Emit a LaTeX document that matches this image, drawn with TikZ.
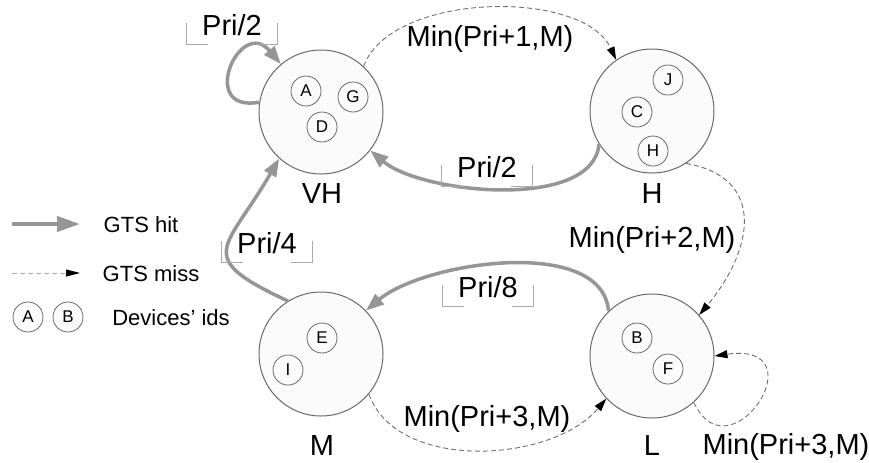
\documentclass[tikz,border=0pt]{standalone}
\usepackage{fontspec}
\setmainfont{Liberation Sans}
\usetikzlibrary{arrows.meta,calc}
\definecolor{hitgray}{RGB}{150,150,150}
\definecolor{missgray}{RGB}{110,110,110}
\definecolor{brkgray}{RGB}{170,170,170}
\definecolor{nodegray}{RGB}{105,105,105}
\definecolor{nodefill}{RGB}{251,251,251}

% floor-like corners under a label
\newcommand{\floorbox}[1]{%
  \draw[brkline] (#1.south west) ++(0,21) -- (#1.south west) -- ++(21,0);
  \draw[brkline] (#1.south east) ++(0,21) -- (#1.south east) -- ++(-21,0);}

\begin{document}
\begin{tikzpicture}[x=0.5pt,y=0.5pt,
        every node/.style={inner sep=0pt},
        state/.style={draw=nodegray,circle,fill=nodefill,line width=0.5pt,minimum size=62pt},
        dev/.style={draw=nodegray,circle,fill=nodefill,line width=0.4pt,minimum size=15pt,font=\fontsize{8.5}{10}\selectfont},
        sname/.style={anchor=base,font=\fontsize{14.5}{16}\selectfont},
        lbl/.style={anchor=base,font=\fontsize{14.5}{16}\selectfont},
        brk/.style={lbl,text depth=0pt,inner ysep=4.5pt,inner xsep=7.5pt},
        brkline/.style={brkgray,line width=0.5pt},
        legtext/.style={anchor=base,font=\fontsize{11}{13}\selectfont},
        hit/.style={hitgray,line width=1.75pt,-{Triangle[length=9pt,width=6.5pt]}},
        miss/.style={missgray,line width=0.45pt,dash pattern=on 2.5pt off 1.5pt,-{Triangle[length=6.5pt,width=4pt,color=black]}}
        ]
        \useasboundingbox (0,0) rectangle (869,-462);

        % the states
        \node[state] (VH) at (321,-112) {};
        \node[state] (H) at (652,-111) {};
        \node[state] (M) at (321,-354) {};
        \node[state] (L) at (652,-356) {};

        % the devices
        \node[dev] (dA) at (306,-91) {A};
        \node[dev] (dG) at (353,-97) {G};
        \node[dev] (dD) at (322,-127) {D};
        \node[dev] (dJ) at (668,-80) {J};
        \node[dev] (dC) at (637,-112) {C};
        \node[dev] (dH) at (653,-151) {H};
        \node[dev] (dE) at (322,-338) {E};
        \node[dev] (dI) at (288,-370) {I};
        \node[dev] (dB) at (637,-338) {B};
        \node[dev] (dF) at (668,-369) {F};

        % the state names
        \node[sname] (nVH) at (322,-203) {VH};
        \node[sname] (nH) at (652,-203) {H};
        \node[sname] (nM) at (322,-455) {M};
        \node[sname] (nL) at (652,-455) {L};

        % the hits
        \draw[hit] (VH.171) to[out=190,in=130,looseness=3.7] (VH.130);
        \draw[hit] (H.212) to[out=-95,in=-40,looseness=0.75] (VH.-38);
        \draw[hit] (L.134) to[out=95,in=40,looseness=0.8] (M.44);
        \draw[hit] (M.122) to[out=155,in=240,looseness=1.9] (VH.228);

        % the misses
        \draw[miss] (VH.47) to[out=70,in=115,looseness=0.8] (H.125);
        \draw[miss] (H.-57) to[out=-10,in=50,looseness=1.4] (L.41);
        \draw[miss] (M.-40) to[out=-70,in=-130,looseness=0.9] (L.223);
        \draw[miss] (L.-48) .. controls +(-65:85) and +(8:107) .. (L.0);

        % the labels
        \node[brk] (p1) at (232,-35) {Pri/2};
        \node[brk] (p2) at (487,-177) {Pri/2};
        \node[brk] (p3) at (488,-297) {Pri/8};
        \node[brk] (p4) at (267,-253) {Pri/4};
        \floorbox{p1}
        \floorbox{p2}
        \floorbox{p3}
        \floorbox{p4}
        \node[lbl] (m1) at (490,-46) {Min(Pri+1,M)};
        \node[lbl] (m2) at (652,-247) {Min(Pri+2,M)};
        \node[lbl] (m3) at (487,-426) {Min(Pri+3,M)};
        \node[lbl] (m4) at (786,-454) {Min(Pri+3,M)};

        % the legend
        \coordinate (h0) at (12,-224);
        \coordinate (h1) at (80,-224);
        \coordinate (s0) at (12,-273);
        \coordinate (s1) at (80,-273);
        \draw[hit,line width=2pt,-{Triangle[length=11.5pt,width=7.5pt]}] (h0) -- (h1);
        \draw[miss,brkgray,-{Triangle[length=7pt,width=3.5pt,color=black]}] (s0) -- (s1);
        \node[legtext] (thit) at (141,-232) {GTS hit};
        \node[legtext] (tmiss) at (151,-281) {GTS miss};
        \node[dev] (lA) at (28,-317) {A};
        \node[dev] (lB) at (68,-317) {B};
        \node[legtext] (tids) at (171,-325) {Devices’ ids};
\end{tikzpicture}
\end{document}
